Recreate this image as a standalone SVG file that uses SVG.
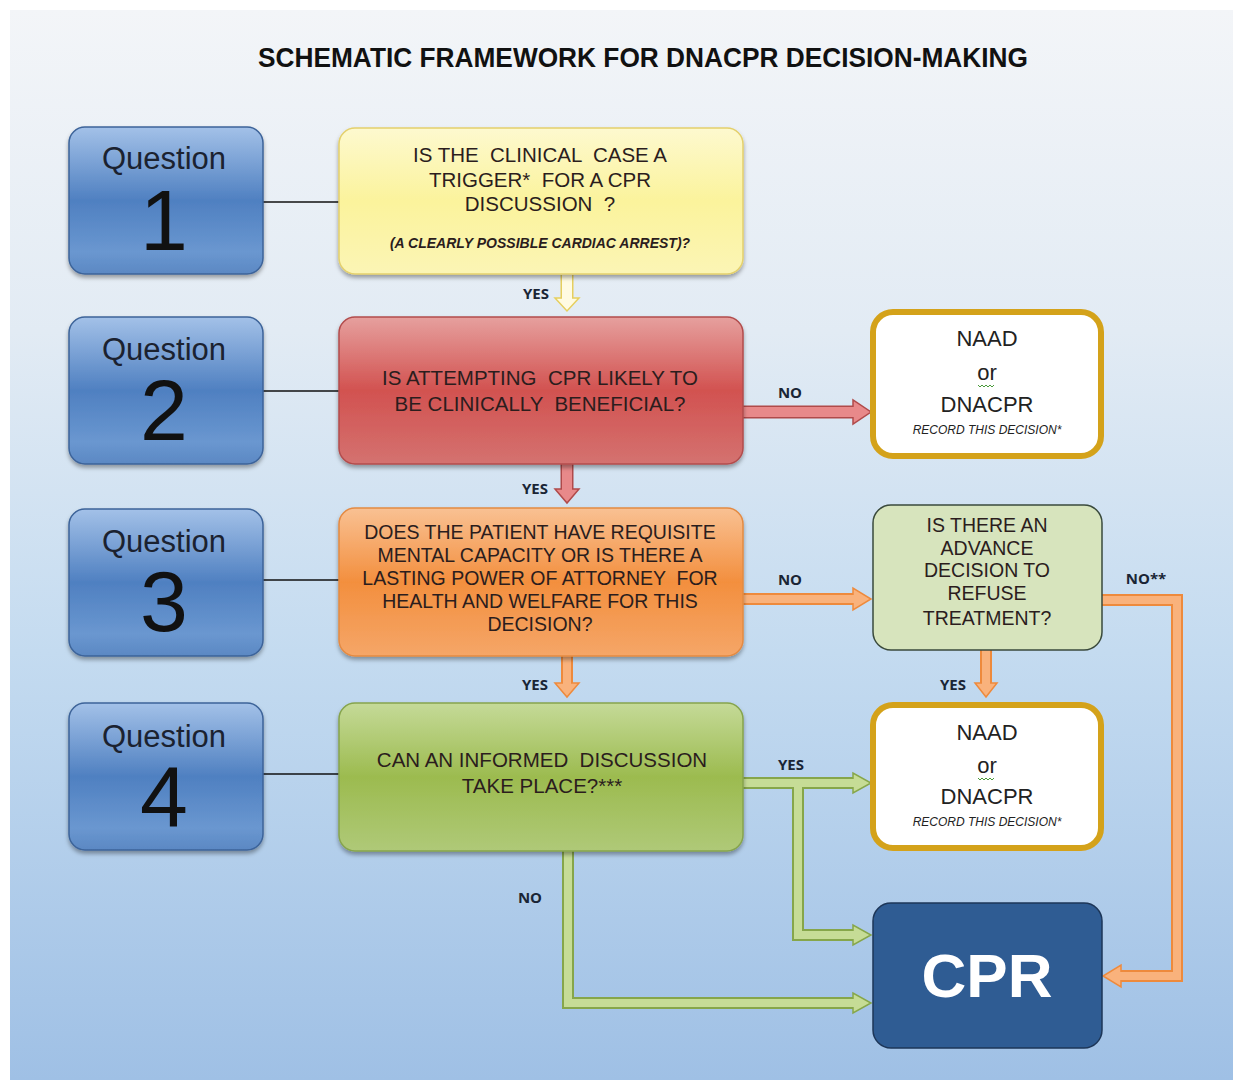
<svg xmlns="http://www.w3.org/2000/svg" width="1233" height="1080" viewBox="0 0 1233 1080">
<defs>
<linearGradient id="bg" x1="0" y1="0" x2="0" y2="1">
<stop offset="0" stop-color="#f3f5f8"/>
<stop offset="0.3" stop-color="#e2ebf4"/>
<stop offset="0.6" stop-color="#c4dbf0"/>
<stop offset="1" stop-color="#9fc0e5"/>
</linearGradient>
<linearGradient id="gQ" x1="0" y1="0" x2="0" y2="1">
<stop offset="0" stop-color="#a3c1e8"/>
<stop offset="0.5" stop-color="#4f80c1"/>
<stop offset="0.85" stop-color="#6a97d0"/>
<stop offset="1" stop-color="#5b88c3"/>
</linearGradient>
<linearGradient id="gY" x1="0" y1="0" x2="0" y2="1">
<stop offset="0" stop-color="#fdf9cf"/>
<stop offset="0.5" stop-color="#fbf39c"/>
<stop offset="1" stop-color="#fbf5b5"/>
</linearGradient>
<linearGradient id="gR" x1="0" y1="0" x2="0" y2="1">
<stop offset="0" stop-color="#e6a09e"/>
<stop offset="0.5" stop-color="#d25250"/>
<stop offset="1" stop-color="#d47270"/>
</linearGradient>
<linearGradient id="gO" x1="0" y1="0" x2="0" y2="1">
<stop offset="0" stop-color="#f9c193"/>
<stop offset="0.5" stop-color="#f38f3e"/>
<stop offset="1" stop-color="#f5a668"/>
</linearGradient>
<linearGradient id="gG" x1="0" y1="0" x2="0" y2="1">
<stop offset="0" stop-color="#c5da98"/>
<stop offset="0.5" stop-color="#9cbb4f"/>
<stop offset="1" stop-color="#afc978"/>
</linearGradient>
<filter id="sh" x="-10%" y="-10%" width="120%" height="130%">
<feDropShadow dx="0" dy="3" stdDeviation="2" flood-color="#000" flood-opacity="0.35"/>
</filter>
</defs>
<style>
.t{font-family:"Liberation Sans",Arial,sans-serif;text-anchor:middle;fill:#2b1d1d;white-space:pre}
.q{font-size:31px;fill:#1b2230}
.n{font-size:86px;fill:#111}
.b20{font-size:20.5px}
.b19{font-size:19.5px}
.lbl{font-family:"Open Sans","Liberation Sans",sans-serif;font-weight:bold;font-size:15px;text-anchor:middle;fill:#1a2535}
.naad{font-size:22px;fill:#222}
.rec{font-size:12px;font-style:italic;fill:#222}
.conn{stroke:#111;stroke-width:1.3;fill:none}
.ro{fill:none;stroke:#b04a4a;stroke-width:13}
.ri{fill:none;stroke:#e8898a;stroke-width:10}
.rh{fill:#e8898a;stroke:#b04a4a;stroke-width:1.5}
.oo{fill:none;stroke:#ee8a3c;stroke-width:12}
.oi{fill:none;stroke:#f9b27c;stroke-width:8;stroke-linejoin:miter}
.oh{fill:#f9b27c;stroke:#ee8a3c;stroke-width:1.5}
.go{fill:none;stroke:#86a64a;stroke-width:12}
.gi{fill:none;stroke:#c6dc96;stroke-width:8}
.gh{fill:#c6dc96;stroke:#86a64a;stroke-width:1.5}
.yo{fill:none;stroke:#e6cf5e;stroke-width:13}
.yi{fill:none;stroke:#fffbe2;stroke-width:10}
.yh{fill:#fffbe2;stroke:#e6cf5e;stroke-width:1.5}
</style>
<rect x="0" y="0" width="1233" height="1080" fill="#ffffff"/>
<rect x="10" y="10" width="1223" height="1070" fill="url(#bg)"/>
<text x="643" y="67" font-family="'Liberation Sans',Arial,sans-serif" font-weight="bold" font-size="27" text-anchor="middle" fill="#111" textLength="770" lengthAdjust="spacingAndGlyphs">SCHEMATIC FRAMEWORK FOR DNACPR DECISION-MAKING</text>

<g id="connectors">
<line class="conn" x1="263" y1="202" x2="339" y2="202"/>
<line class="conn" x1="263" y1="391" x2="339" y2="391"/>
<line class="conn" x1="263" y1="580" x2="339" y2="580"/>
<line class="conn" x1="263" y1="774" x2="339" y2="774"/>
<path class="yo" d="M567 275 V298"/>
<polygon class="yh" points="555,298 579,298 567,311"/>
<path class="yi" d="M567 275 V299.5"/>
<path class="ro" d="M567 464 V489"/>
<polygon class="rh" points="555,489 579,489 567,503"/>
<path class="ri" d="M567 464 V490.5"/>
<path class="ro" d="M743 412 H853"/>
<polygon class="rh" points="853,400 853,424 871,412"/>
<path class="ri" d="M743 412 H854.5"/>
<path class="oo" d="M567 656 V683"/>
<polygon class="oh" points="555,683 579,683 567,697"/>
<path class="oi" d="M567 656 V684.5"/>
<path class="oo" d="M743 599 H853"/>
<polygon class="oh" points="853,588 853,610 871,599"/>
<path class="oi" d="M743 599 H854.5"/>
<path class="oo" d="M986 650 V683"/>
<polygon class="oh" points="975,683 997,683 986,697"/>
<path class="oi" d="M986 650 V684.5"/>
<path class="oo" d="M1102 600 H1177 V976 H1121"/>
<polygon class="oh" points="1121,965 1121,987 1103,976"/>
<path class="oi" d="M1102 600 H1177 V976 H1119.5"/>
<path class="go" d="M743 783 H853 M798 783 V935 H853"/>
<polygon class="gh" points="853,773 853,793 871,783"/>
<polygon class="gh" points="853,925 853,945 871,935"/>
<path class="gi" d="M743 783 H854.5 M798 783 V935 H854.5"/>
<path class="go" d="M568 851 V1003 H853"/>
<polygon class="gh" points="853,993 853,1013 871,1003"/>
<path class="gi" d="M568 851 V1003 H854.5"/>
<text class="lbl" x="536" y="299">YES</text>
<text class="lbl" x="790" y="398">NO</text>
<text class="lbl" x="535" y="494">YES</text>
<text class="lbl" x="790" y="585">NO</text>
<text class="lbl" x="535" y="690">YES</text>
<text class="lbl" x="953" y="690">YES</text>
<text class="lbl" x="1146" y="584">NO**</text>
<text class="lbl" x="791" y="770">YES</text>
<text class="lbl" x="530" y="903">NO</text>
</g>

<g id="q1">
<rect x="69" y="127" width="194" height="147" rx="16" fill="url(#gQ)" stroke="#3c6399" stroke-width="1.5" filter="url(#sh)"/>
<text class="t q" x="164" y="169">Question</text>
<text class="t n" x="164" y="250">1</text>
</g>
<g id="q2">
<rect x="69" y="317" width="194" height="147" rx="16" fill="url(#gQ)" stroke="#3c6399" stroke-width="1.5" filter="url(#sh)"/>
<text class="t q" x="164" y="360">Question</text>
<text class="t n" x="164" y="440">2</text>
</g>
<g id="q3">
<rect x="69" y="509" width="194" height="147" rx="16" fill="url(#gQ)" stroke="#3c6399" stroke-width="1.5" filter="url(#sh)"/>
<text class="t q" x="164" y="552">Question</text>
<text class="t n" x="164" y="631">3</text>
</g>
<g id="q4">
<rect x="69" y="703" width="194" height="147" rx="16" fill="url(#gQ)" stroke="#3c6399" stroke-width="1.5" filter="url(#sh)"/>
<text class="t q" x="164" y="747">Question</text>
<text class="t n" x="164" y="826">4</text>
</g>

<g id="trigger">
<rect x="339" y="128" width="404" height="146" rx="16" fill="url(#gY)" stroke="#e4d06c" stroke-width="1.5" filter="url(#sh)"/>
<text class="t b20" x="540" y="162">IS THE  CLINICAL  CASE A</text>
<text class="t b20" x="540" y="187">TRIGGER*  FOR A CPR</text>
<text class="t b20" x="540" y="211">DISCUSSION  ?</text>
<text class="t" x="540" y="248" font-size="14" font-weight="bold" font-style="italic">(A CLEARLY POSSIBLE CARDIAC ARREST)?</text>
</g>
<g id="beneficial">
<rect x="339" y="317" width="404" height="147" rx="16" fill="url(#gR)" stroke="#b24c4c" stroke-width="1.5" filter="url(#sh)"/>
<text class="t b20" x="540" y="385">IS ATTEMPTING  CPR LIKELY TO</text>
<text class="t b20" x="540" y="411">BE CLINICALLY  BENEFICIAL?</text>
</g>
<g id="capacity">
<rect x="339" y="508" width="404" height="148" rx="16" fill="url(#gO)" stroke="#e48a42" stroke-width="1.5" filter="url(#sh)"/>
<text class="t b19" x="540" y="539">DOES THE PATIENT HAVE REQUISITE</text>
<text class="t b19" x="540" y="562">MENTAL CAPACITY OR IS THERE A</text>
<text class="t b19" x="540" y="585">LASTING POWER OF ATTORNEY  FOR</text>
<text class="t b19" x="540" y="608">HEALTH AND WELFARE FOR THIS</text>
<text class="t b19" x="540" y="631">DECISION?</text>
</g>
<g id="discussion">
<rect x="339" y="703" width="404" height="148" rx="16" fill="url(#gG)" stroke="#86a44c" stroke-width="1.5" filter="url(#sh)"/>
<text class="t b20" x="542" y="767">CAN AN INFORMED  DISCUSSION</text>
<text class="t b20" x="542" y="793">TAKE PLACE?***</text>
</g>
<g id="naad1">
<rect x="873" y="312" width="228" height="144" rx="20" fill="#ffffff" stroke="#d4a21a" stroke-width="6"/>
<text class="t naad" x="987" y="346">NAAD</text>
<text class="t naad" x="987" y="380">or</text>
<path d="M978 385 l2 2 l2 -2 l2 2 l2 -2 l2 2 l2 -2 l2 2 l2 -2" fill="none" stroke="#4a9a3a" stroke-width="1"/>
<text class="t naad" x="987" y="412">DNACPR</text>
<text class="t rec" x="987" y="434">RECORD THIS DECISION*</text>
</g>
<g id="adrt">
<rect x="873" y="505" width="229" height="145" rx="18" fill="#d7e4bd" stroke="#3a4a3c" stroke-width="1.5"/>
<text class="t b19" x="987" y="532">IS THERE AN</text>
<text class="t b19" x="987" y="555">ADVANCE</text>
<text class="t b19" x="987" y="577">DECISION TO</text>
<text class="t b19" x="987" y="600">REFUSE</text>
<text class="t b19" x="987" y="625">TREATMENT?</text>
</g>
<g id="naad2">
<rect x="873" y="705" width="228" height="143" rx="20" fill="#ffffff" stroke="#d4a21a" stroke-width="6"/>
<text class="t naad" x="987" y="740">NAAD</text>
<text class="t naad" x="987" y="773">or</text>
<path d="M978 778 l2 2 l2 -2 l2 2 l2 -2 l2 2 l2 -2 l2 2 l2 -2" fill="none" stroke="#4a9a3a" stroke-width="1"/>
<text class="t naad" x="987" y="804">DNACPR</text>
<text class="t rec" x="987" y="826">RECORD THIS DECISION*</text>
</g>
<g id="cpr">
<rect x="873" y="903" width="229" height="145" rx="18" fill="#2f5c93" stroke="#1d3658" stroke-width="1.5"/>
<text x="987" y="997" font-family="'Liberation Sans',Arial,sans-serif" font-weight="bold" font-size="62" text-anchor="middle" fill="#ffffff">CPR</text>
</g>
</svg>
